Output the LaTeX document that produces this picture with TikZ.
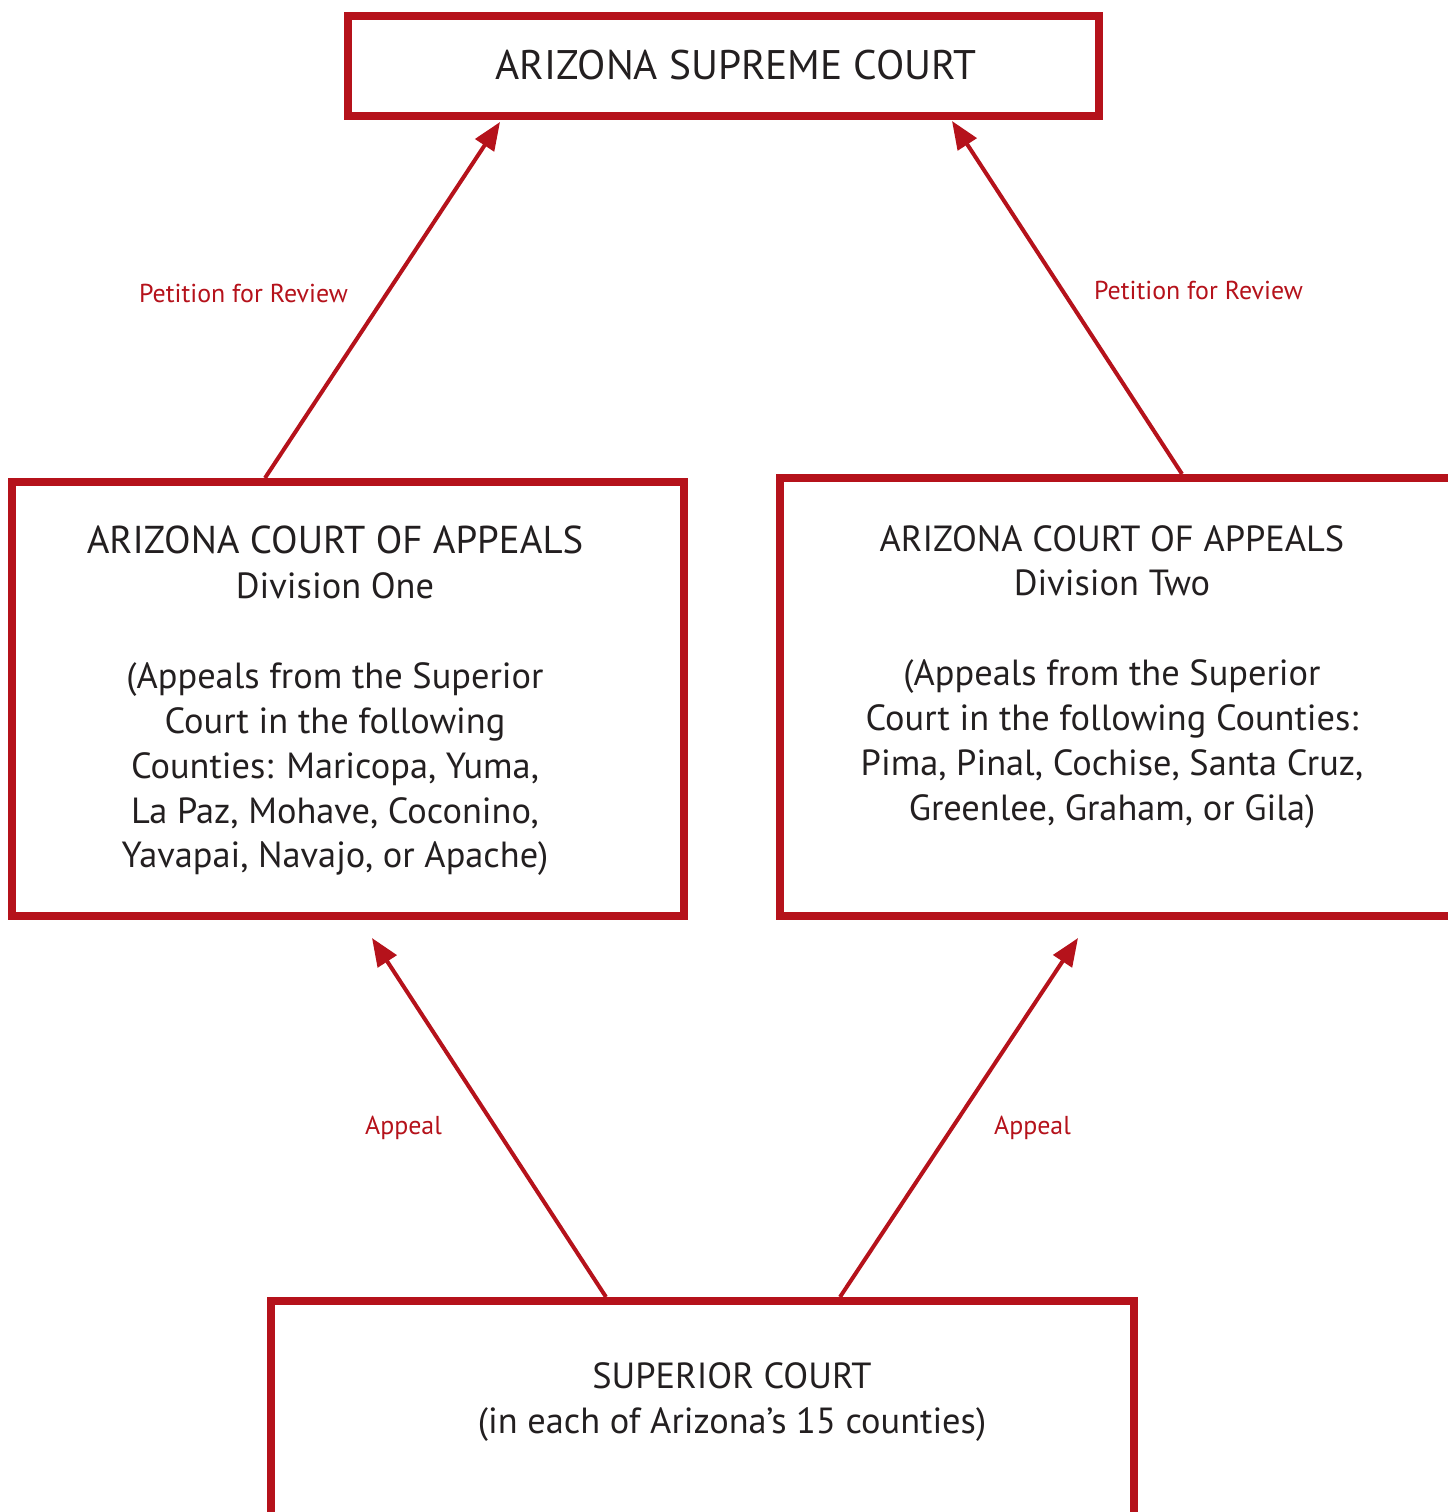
\documentclass[tikz,border=0pt]{standalone}
\usepackage{fontspec}
\setmainfont{PT Sans}
\usetikzlibrary{arrows.meta}

\definecolor{courtred}{RGB}{181,18,27}
\definecolor{courtink}{RGB}{35,31,32}

\tikzset{
  courtbox/.style 2 args={draw=courtred, line width=8bp, inner sep=0pt,
    minimum width=#1, minimum height=#2},
  courttext/.style={text=courtink, align=center, inner sep=0pt,
    font=\fontsize{36.5}{45}\selectfont},
  routelabel/.style={text=courtred, inner sep=0pt,
    font=\fontsize{26}{30}\selectfont},
  appealarrow/.style={draw=courtred, line width=4bp,
    -{Triangle[length=28bp,width=22bp]}}
}

\begin{document}
\begin{tikzpicture}[x=1bp, y=-1bp]
  \useasboundingbox (0,0) rectangle (1448,1512);

  % the four courts
  \node[courtbox={751bp}{100bp}] (supreme) at (723.5,66) {};
  \node[courtbox={672bp}{434bp}] (divone) at (348,699) {};
  \node[courtbox={676bp}{438bp}] (divtwo) at (1118,697) {};
  \node[courtbox={863bp}{219bp}] (superior) at (702.5,1410.5) {};

  % what is written in them
  \node[courttext, font=\fontsize{41.5}{45}\selectfont] (supremetext)
    at (736,65) {ARIZONA SUPREME COURT};
  \node[courttext, anchor=north] (divonetext) at (335,526)
    {{\fontsize{39}{45}\selectfont ARIZONA COURT OF APPEALS}\\
     Division One\\[45bp]
     (Appeals from the Superior\\
     Court in the following\\
     Counties: Maricopa, Yuma,\\
     La Paz, Mohave, Coconino,\\
     Yavapai, Navajo, or Apache)};
  \node[courttext, anchor=north] (divtwotext) at (1112,525)
    {ARIZONA COURT OF APPEALS\\
     Division Two\\[45bp]
     (Appeals from the Superior\\
     Court in the following Counties:\\
     Pima, Pinal, Cochise, Santa Cruz,\\
     Greenlee, Graham, or Gila)};
  \node[courttext] (superiortext) at (732,1402)
    {SUPERIOR COURT\\(in each of Arizona’s 15 counties)};

  % routes upward
  \draw[appealarrow] ([xshift=257bp]divone.north west)
    -- ([xshift=156bp, yshift=-2bp]supreme.south west);
  \draw[appealarrow] ([xshift=406bp]divtwo.north west)
    -- ([xshift=608bp, yshift=-1bp]supreme.south west);
  \draw[appealarrow] ([xshift=339bp]superior.north west)
    -- ([xshift=364bp, yshift=-18bp]divone.south west);
  \draw[appealarrow] ([xshift=573bp]superior.north west)
    -- ([xshift=302bp, yshift=-18bp]divtwo.south west);

  \node[routelabel] (reviewone) at (243.5,293) {Petition for Review};
  \node[routelabel] (reviewtwo) at (1198.5,290) {Petition for Review};
  \node[routelabel] (appealone) at (403.5,1128) {Appeal};
  \node[routelabel] (appealtwo) at (1032.5,1128) {Appeal};
\end{tikzpicture}
\end{document}
